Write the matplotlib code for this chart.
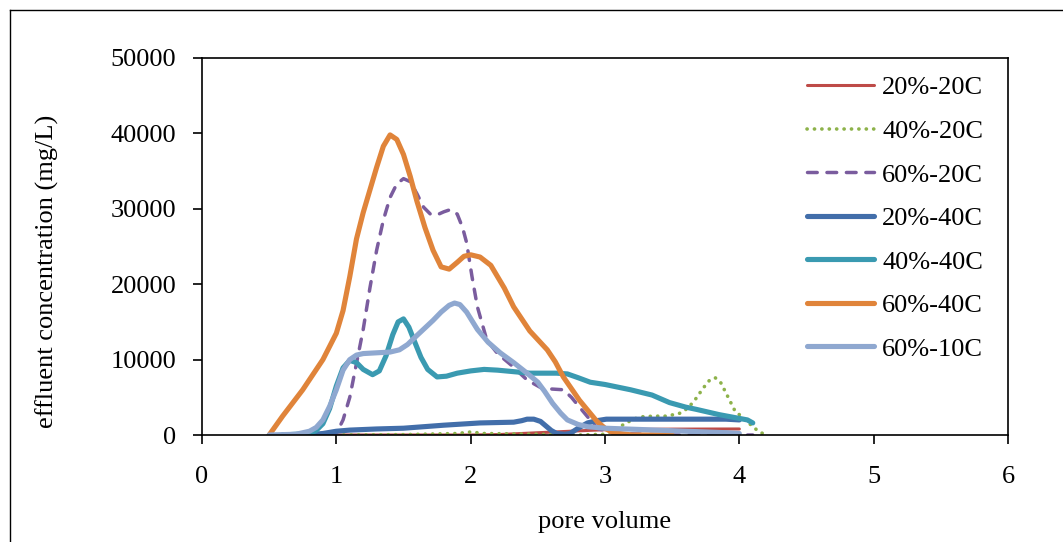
import numpy as np
import matplotlib
matplotlib.use('Agg')
import matplotlib.pyplot as plt
from matplotlib.lines import Line2D

plt.rcParams['font.family'] = ['Liberation Serif', 'DejaVu Serif']

# values (pore volume, mg/L)
x_20_20 = [1.0, 1.5, 2.0, 2.2, 2.5, 2.8, 3.0, 3.5, 4.0]
y_20_20 = [0, 0, 0, 50, 300, 550, 700, 780, 800]

x_40_20 = [1.0, 1.5, 1.9, 2.0, 2.1, 2.5, 2.8, 3.0, 3.08, 3.13, 3.2, 3.26, 3.36,
           3.46, 3.56, 3.62, 3.68, 3.73, 3.78, 3.82, 3.86, 3.9, 3.97, 4.03,
           4.1, 4.15, 4.2]
y_40_20 = [0, 50, 200, 400, 200, 100, 0, 100, 700, 1300, 2000, 2400, 2500,
           2500, 2900, 3600, 4900, 6200, 7300, 7600, 7000, 5600, 3100, 2300,
           1100, 400, 0]

x_60_20 = [0.5, 0.9, 1.0, 1.05, 1.1, 1.15, 1.2, 1.25, 1.3, 1.35, 1.4, 1.45,
           1.5, 1.55, 1.6, 1.65, 1.7, 1.75, 1.8, 1.85, 1.9, 1.94, 1.97, 2.01,
           2.05, 2.12, 2.2, 2.3, 2.42, 2.52, 2.6, 2.69, 2.75, 2.81, 2.89,
           2.95, 3.1, 3.5, 4.1]
y_60_20 = [0, 0, 200, 2000, 5000, 9500, 14000, 19500, 24500, 28500, 31500,
           33300, 34000, 33600, 32000, 30200, 29300, 29200, 29600, 29900,
           29300, 27500, 25500, 21000, 17000, 12600, 10800, 9300, 7300, 6300,
           6100, 6000, 5000, 3700, 2000, 800, 200, 0, 0]

x_20_40 = [0.6, 0.8, 0.9, 1.0, 1.1, 1.3, 1.5, 1.8, 2.07, 2.32, 2.38, 2.42,
           2.47, 2.52, 2.56, 2.6, 2.64, 2.7, 2.74, 2.8, 2.87, 2.94, 3.01,
           3.5, 3.9, 4.0]
y_20_40 = [0, 50, 200, 500, 650, 800, 900, 1300, 1600, 1700, 1900, 2100,
           2100, 1800, 1200, 600, 200, 100, 200, 900, 1600, 1900, 2100, 2100,
           2100, 2000]

x_40_40 = [0.6, 0.8, 0.85, 0.9, 0.95, 1.0, 1.05, 1.1, 1.15, 1.2, 1.27, 1.32,
           1.37, 1.42, 1.46, 1.5, 1.54, 1.58, 1.63, 1.68, 1.75, 1.82, 1.9,
           2.0, 2.1, 2.2, 2.44, 2.64, 2.72, 2.8, 2.89, 3.0, 3.19, 3.35, 3.48,
           3.6, 3.68, 3.85, 4.06, 4.1]
y_40_40 = [0, 200, 600, 1500, 3500, 6500, 8900, 9900, 9600, 8700, 8000,
           8500, 10500, 13300, 15000, 15400, 14300, 12500, 10300, 8700,
           7700, 7800, 8200, 8500, 8700, 8600, 8200, 8200, 8100, 7600, 7000,
           6700, 6000, 5300, 4300, 3700, 3400, 2700, 2000, 1600]

x_60_40 = [0.5, 0.6, 0.75, 0.9, 1.0, 1.05, 1.1, 1.15, 1.2, 1.25, 1.3, 1.35,
           1.4, 1.45, 1.5, 1.55, 1.6, 1.66, 1.72, 1.78, 1.84, 1.9, 1.95, 2.0,
           2.07, 2.15, 2.25, 2.32, 2.44, 2.57, 2.63, 2.69, 2.81, 2.94, 3.0,
           3.06, 3.2, 3.5]
y_60_40 = [0, 2500, 6000, 10000, 13500, 16500, 21000, 26000, 29500, 32500,
           35500, 38300, 39800, 39200, 37200, 34300, 31000, 27500, 24500,
           22300, 22000, 22900, 23700, 23900, 23600, 22500, 19500, 17000,
           13800, 11300, 9700, 7700, 4600, 1800, 900, 300, 0, 0]

x_60_10 = [0.5, 0.7, 0.8, 0.85, 0.9, 0.95, 1.0, 1.05, 1.1, 1.15, 1.2, 1.3,
           1.4, 1.47, 1.53, 1.6, 1.66, 1.72, 1.78, 1.84, 1.88, 1.92, 1.97,
           2.05, 2.13, 2.22, 2.32, 2.42, 2.5, 2.55, 2.61, 2.67, 2.72, 2.8,
           2.87, 3.0, 3.31, 3.6, 3.91, 4.0]
y_60_10 = [0, 100, 500, 1000, 2000, 3800, 6000, 8600, 10000, 10600, 10800,
           10900, 11000, 11300, 12000, 13200, 14200, 15200, 16300, 17200,
           17500, 17300, 16300, 14000, 12300, 10900, 9600, 8200, 7000, 5800,
           4200, 2900, 2000, 1400, 1100, 900, 700, 500, 300, 200]

series = [
    ('20%-20C', x_20_20, y_20_20, '#BE4B48', '-', 2.2),
    ('40%-20C', x_40_20, y_40_20, '#8DB24A', (0, (0.05, 2.0)), 2.6),
    ('60%-20C', x_60_20, y_60_20, '#7A5C9E', (0, (2.8, 2.8)), 2.5),
    ('20%-40C', x_20_40, y_20_40, '#426EAA', '-', 3.7),
    ('40%-40C', x_40_40, y_40_40, '#3A9AB1', '-', 3.7),
    ('60%-40C', x_60_40, y_60_40, '#E0843A', '-', 3.7),
    ('60%-10C', x_60_10, y_60_10, '#8FA8D0', '-', 3.7),
]

fs = 19
fig = plt.figure(figsize=(10.63, 5.42), dpi=100)
ax = fig.add_axes([202/1063, 1-435/542, (1008-202)/1063, (435-58)/542])

for label, xs, ys, col, ls, lw in series:
    ax.plot(xs, ys, color=col, ls=ls, lw=lw, label=label,
            solid_capstyle='round', solid_joinstyle='round',
            dash_capstyle='round')

ax.set_xlim(0, 6)
ax.set_ylim(0, 50000)
ax.set_xticks(range(0, 7))
ax.set_yticks(range(0, 50001, 10000))
ax.tick_params(axis='both', direction='out', length=6.5, width=1.2,
               labelsize=fs, color='black')
ax.tick_params(axis='y', pad=12)
ax.tick_params(axis='x', pad=16)
for sp in ax.spines.values():
    sp.set_linewidth(1.2)
    sp.set_color('black')

ax.set_ylabel('effluent concentration (mg/L)', fontsize=fs)
ax.yaxis.set_label_coords(59/1063, 0.5, transform=fig.transFigure)
ax.set_xlabel('pore volume', fontsize=fs)
ax.xaxis.set_label_coords(605/1063, 1-511/542, transform=fig.transFigure)

leg = ax.legend(loc='upper left', bbox_to_anchor=(807/1063, 1-76/542),
                bbox_transform=fig.transFigure, frameon=False, fontsize=fs,
                handlelength=2.55, handletextpad=0.3, labelspacing=0.76,
                borderpad=0, borderaxespad=0)

# outer chart border (left and top edges visible)
fig.add_artist(Line2D([10/1063, 10/1063], [0, 1-10/542], color='black', lw=1.0,
                      transform=fig.transFigure))
fig.add_artist(Line2D([10/1063, 1], [1-10/542, 1-10/542], color='black', lw=1.0,
                      transform=fig.transFigure))

fig.savefig('out.png', dpi=100)
